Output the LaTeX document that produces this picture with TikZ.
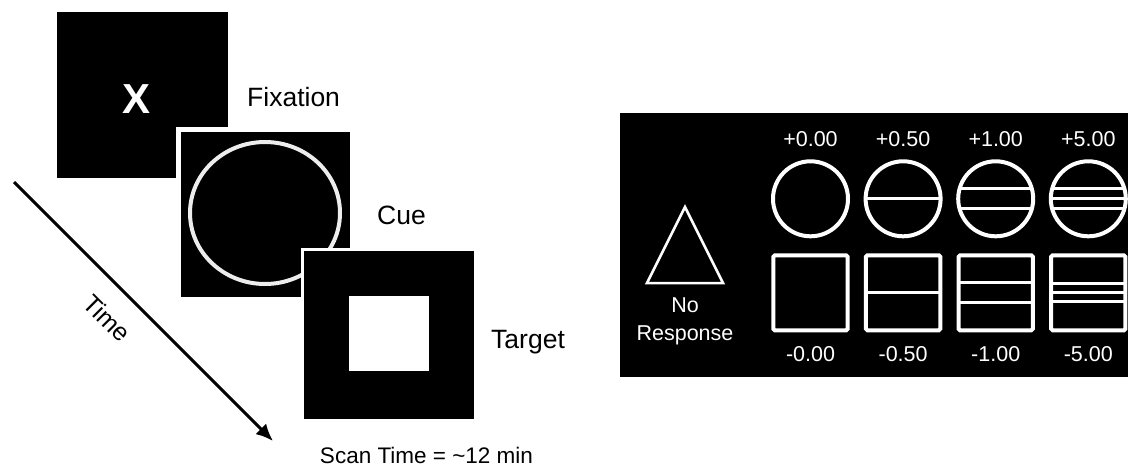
\documentclass[tikz,border=0pt]{standalone}
\usepackage{fontspec}
\setmainfont{Liberation Sans}
\usetikzlibrary{arrows.meta,calc}
\newcommand\myfs[1]{\fontsize{#1}{#1}\selectfont}
\definecolor{cuecol}{gray}{0.93}
\begin{document}
\begin{tikzpicture}[x=1pt,y=-1pt,
  lbl/.style={font=\myfs{26.5}, text=black, inner sep=0pt, anchor=base west},
  val/.style={font=\myfs{21.5}, text=white, inner sep=0pt, anchor=base},
  circ/.style={circle, draw=white, line width=4pt, minimum size=75pt, inner sep=0pt},
  sq/.style={rectangle, draw=white, line width=4pt, minimum width=74.3pt, minimum height=75pt, rounded corners=1.5pt, inner sep=0pt},
  hl/.style={path picture={\foreach \d in {#1}{\draw[white,line width=3pt] ([yshift=\d pt]path picture bounding box.west) -- ([yshift=\d pt]path picture bounding box.east);}}}
]
\useasboundingbox (0,0) rectangle (1128,466);

% ---- trial sequence ----
\fill[black] (57,12) rectangle (228,178);
\node[font=\myfs{42}\bfseries, text=white, inner sep=0pt, anchor=base] (fixx) at (136.5,113.3) {X};
\node[lbl] (fix) at (247,106) {Fixation};

\fill[white] (176,127) rectangle (355,302);
\fill[black] (181,132) rectangle (350,297);
\draw[cuecol, line width=4pt] (265,213) ellipse [x radius=75, y radius=71];
\node[lbl] (cue) at (377,224) {Cue};

\fill[white] (301,248) rectangle (477,422);
\fill[black] (304,251) rectangle (474,419);
\fill[white] (349,296) rectangle (429,371);
\node[lbl] (tgt) at (491,348) {Target};

\coordinate (tstart) at (14,182);
\coordinate (tend) at (273,441);
\draw[line width=3pt, -{Latex[length=17pt,width=15pt]}] (tstart) -- (tend);
\node[font=\myfs{25}, rotate=-45, inner sep=0pt] (time) at (107,318) {Time};
\node[font=\myfs{22.5}, anchor=base, inner sep=0pt] (scan) at (426.5,463) {Scan Time = \textasciitilde12 min};

% ---- response panel ----
\fill[black] (620,113) rectangle (1128,377);
\draw[white, line width=2.5pt] (685,207) -- (723,283) -- (647,283) -- cycle;
\node[val] (no) at (685,312.7) {No};
\node[val] (resp) at (685,340) {Response};

\node[circ] (c1) at (810.5,198.8) {};
\node[circ, hl={0}] (c2) at (903.1,198.8) {};
\node[circ, hl={-10,10}] (c3) at (995.7,198.8) {};
\node[circ, hl={-10,0,10}] (c4) at (1088.3,198.8) {};

\node[sq] (s1) at (810.5,292.8) {};
\node[sq, hl={0}] (s2) at (903.1,292.8) {};
\node[sq, hl={-10,10}] (s3) at (995.7,292.8) {};
\node[sq, hl={-9,0,9}] (s4) at (1088.3,292.8) {};

\node[val] (t1) at (810.5,146) {+0.00};
\node[val] (t2) at (903.1,146) {+0.50};
\node[val] (t3) at (995.7,146) {+1.00};
\node[val] (t4) at (1088.3,146) {+5.00};
\node[val] (b1) at (810.5,361.7) {-0.00};
\node[val] (b2) at (903.1,361.7) {-0.50};
\node[val] (b3) at (995.7,361.7) {-1.00};
\node[val] (b4) at (1088.3,361.7) {-5.00};
\end{tikzpicture}
\end{document}
